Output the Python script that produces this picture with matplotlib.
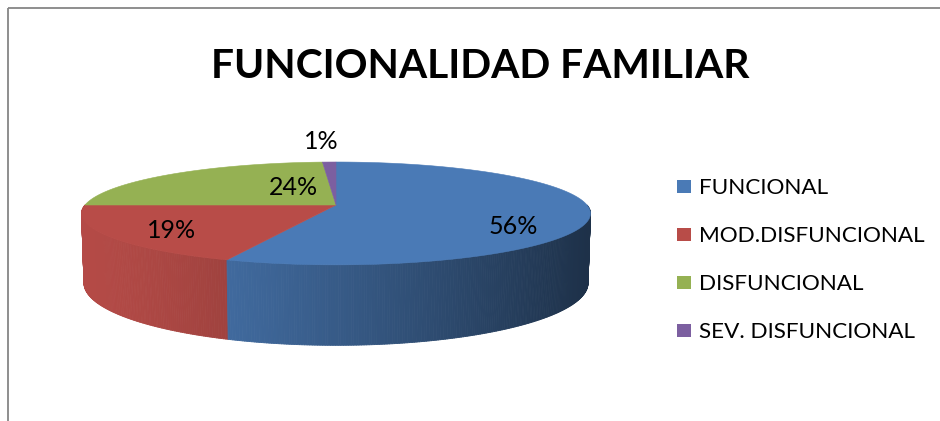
import numpy as np
import matplotlib
matplotlib.use('Agg')
import matplotlib.pyplot as plt
from matplotlib.collections import PolyCollection
from matplotlib.patches import Polygon, Rectangle
from matplotlib.colors import to_rgb

plt.rcParams['font.family'] = ['Lato', 'DejaVu Sans']

# data
categories = ['FUNCIONAL', 'MOD.DISFUNCIONAL', 'DISFUNCIONAL', 'SEV. DISFUNCIONAL']
percentages = [56, 19, 24, 1]
colors = ['#4A7AB6', '#B84C48', '#95B153', '#7C5FA0']
title = 'FUNCIONALIDAD FAMILIAR'

# layout of the 3d pie, in pixels
cx, cy = 336, 205
R = 251
elev = np.radians(11.5)
dist = 1500
depth = 70
label_pos = [(513, 234), (172, 238), (293, 195), (321, 149)]


def project(x3, y3, z3):
    s, c = np.sin(elev), np.cos(elev)
    v = y3 * s + z3 * c
    d = y3 * c - z3 * s
    f = dist / (dist + d)
    return cx + x3 * f, cy - v * f


fig = plt.figure(figsize=(9.4, 4.21), dpi=100)
ax = fig.add_axes([0, 0, 1, 1])
ax.set_xlim(0, 940)
ax.set_ylim(421, 0)
ax.axis('off')

# frame of the chart area
ax.add_patch(Rectangle((8, 8), 1000, 500, fill=False, edgecolor='#868686', lw=1.3))

fractions = np.array(percentages) / sum(percentages)
bounds = np.concatenate([[0], np.cumsum(fractions)])
# start at 12 o'clock, go clockwise
theta_edges = np.pi / 2 - 2 * np.pi * bounds

# side walls (front half only), shaded left to right
quads, qcols, qdepth = [], [], []
for i, col in enumerate(colors):
    hi, lo = theta_edges[i], theta_edges[i + 1]
    a, b = max(lo, -np.pi), min(hi, 0)
    if a >= b:
        continue
    n = max(int((b - a) / np.radians(0.5)), 2)
    ts = np.linspace(a, b, n + 1)
    base = np.array(to_rgb(col))
    for t0, t1 in zip(ts[:-1], ts[1:]):
        pts = []
        for t, z in [(t0, 0), (t1, 0), (t1, -depth), (t0, -depth)]:
            pts.append(project(R * np.cos(t), R * np.sin(t), z))
        xm = np.mean([p[0] for p in pts])
        frac = np.clip((xm - (cx - R)) / (2 * R), 0, 1)
        k = 0.98 - 0.58 * frac ** 1.3
        quads.append(pts)
        qcols.append(np.clip(base * k, 0, 1))
        qdepth.append(np.sin((t0 + t1) / 2))

order = np.argsort(qdepth)[::-1]
quads = [quads[j] for j in order]
qcols = [qcols[j] for j in order]
ax.add_collection(PolyCollection(quads, facecolors=qcols, edgecolors=qcols, linewidths=0.6))

# top faces
for i, col in enumerate(colors):
    ts = np.linspace(theta_edges[i], theta_edges[i + 1], 200)
    xs, ys = project(R * np.cos(ts), R * np.sin(ts), 0)
    pts = [(cx, cy)] + list(zip(xs, ys))
    ax.add_patch(Polygon(pts, closed=True, facecolor=col, edgecolor=col, lw=0.4))

# percentage labels
for (lx, ly), p in zip(label_pos, percentages):
    ax.text(lx, ly, f'{p}%', ha='center', va='baseline', fontsize=18, color='black')

# title
ax.text(480, 78, title, ha='center', va='baseline', fontsize=29.3, fontweight='bold')

# legend
for i, (cat, col) in enumerate(zip(categories, colors)):
    yc = 186.5 + 48 * i
    ax.add_patch(Rectangle((677, yc - 6.5), 14, 13, facecolor=col, edgecolor='none'))
    ax.text(699, yc + 8, cat, ha='left', va='baseline', fontsize=16.2)

fig.savefig('out.png', dpi=100)
